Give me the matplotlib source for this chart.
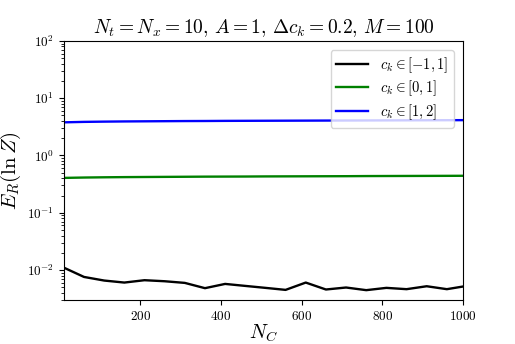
import matplotlib
matplotlib.use("Agg")
import matplotlib.pyplot as plt

plt.rcParams["font.family"] = "serif"
plt.rcParams["font.serif"] = ["cmr10", "DejaVu Serif"]
plt.rcParams["mathtext.fontset"] = "cm"
plt.rcParams["axes.formatter.use_mathtext"] = True

n_c = [10, 60, 110, 160, 210, 260, 310, 360, 410, 460, 510,
       560, 610, 660, 710, 760, 810, 860, 910, 960, 1000]

err_m1_1 = [0.0110, 0.00757, 0.00655, 0.00604, 0.00664, 0.00637, 0.00596,
            0.00482, 0.00572, 0.00528, 0.00488, 0.00450, 0.00604, 0.00457,
            0.00495, 0.00445, 0.00488, 0.00463, 0.00521, 0.00463, 0.00515]
err_0_1 = [0.406, 0.412, 0.416, 0.419, 0.421, 0.423, 0.425, 0.427, 0.428,
           0.429, 0.431, 0.432, 0.433, 0.434, 0.435, 0.437, 0.438, 0.439,
           0.440, 0.441, 0.442]
err_1_2 = [3.79, 3.86, 3.90, 3.93, 3.95, 3.97, 3.99, 4.00, 4.02, 4.03, 4.04,
           4.05, 4.06, 4.07, 4.08, 4.09, 4.10, 4.11, 4.12, 4.13, 4.14]

labels = [r"$c_k \in [-1, 1]$", r"$c_k \in [0, 1]$", r"$c_k \in [1, 2]$"]
colors = ["black", "green", "blue"]

fig = plt.figure(figsize=(5.15, 3.44), dpi=100)
ax = fig.add_axes([0.124, 0.128, 0.775, 0.753])

for ys, lbl, c in zip([err_m1_1, err_0_1, err_1_2], labels, colors):
    ax.plot(n_c, ys, color=c, lw=1.7, label=lbl)

ax.set_yscale("log")
ax.set_xlim(10, 1000)
ax.set_ylim(3e-3, 1e2)
ax.set_xticks([200, 400, 600, 800, 1000])
ax.tick_params(labelsize=9.5)

ax.set_xlabel(r"$N_C$", fontsize=14.5, labelpad=0)
ax.set_ylabel(r"$E_R(\ln Z)$", fontsize=15, labelpad=3)
ax.set_title(r"$N_t = N_x = 10,\, A = 1,\, \Delta c_k = 0.2,\, M = 100$",
             fontsize=14)
ax.legend(loc="upper right", fontsize=10.5, labelspacing=0.25,
          borderaxespad=0.6, handlelength=2.2)

fig.savefig("out.png", dpi=100)
